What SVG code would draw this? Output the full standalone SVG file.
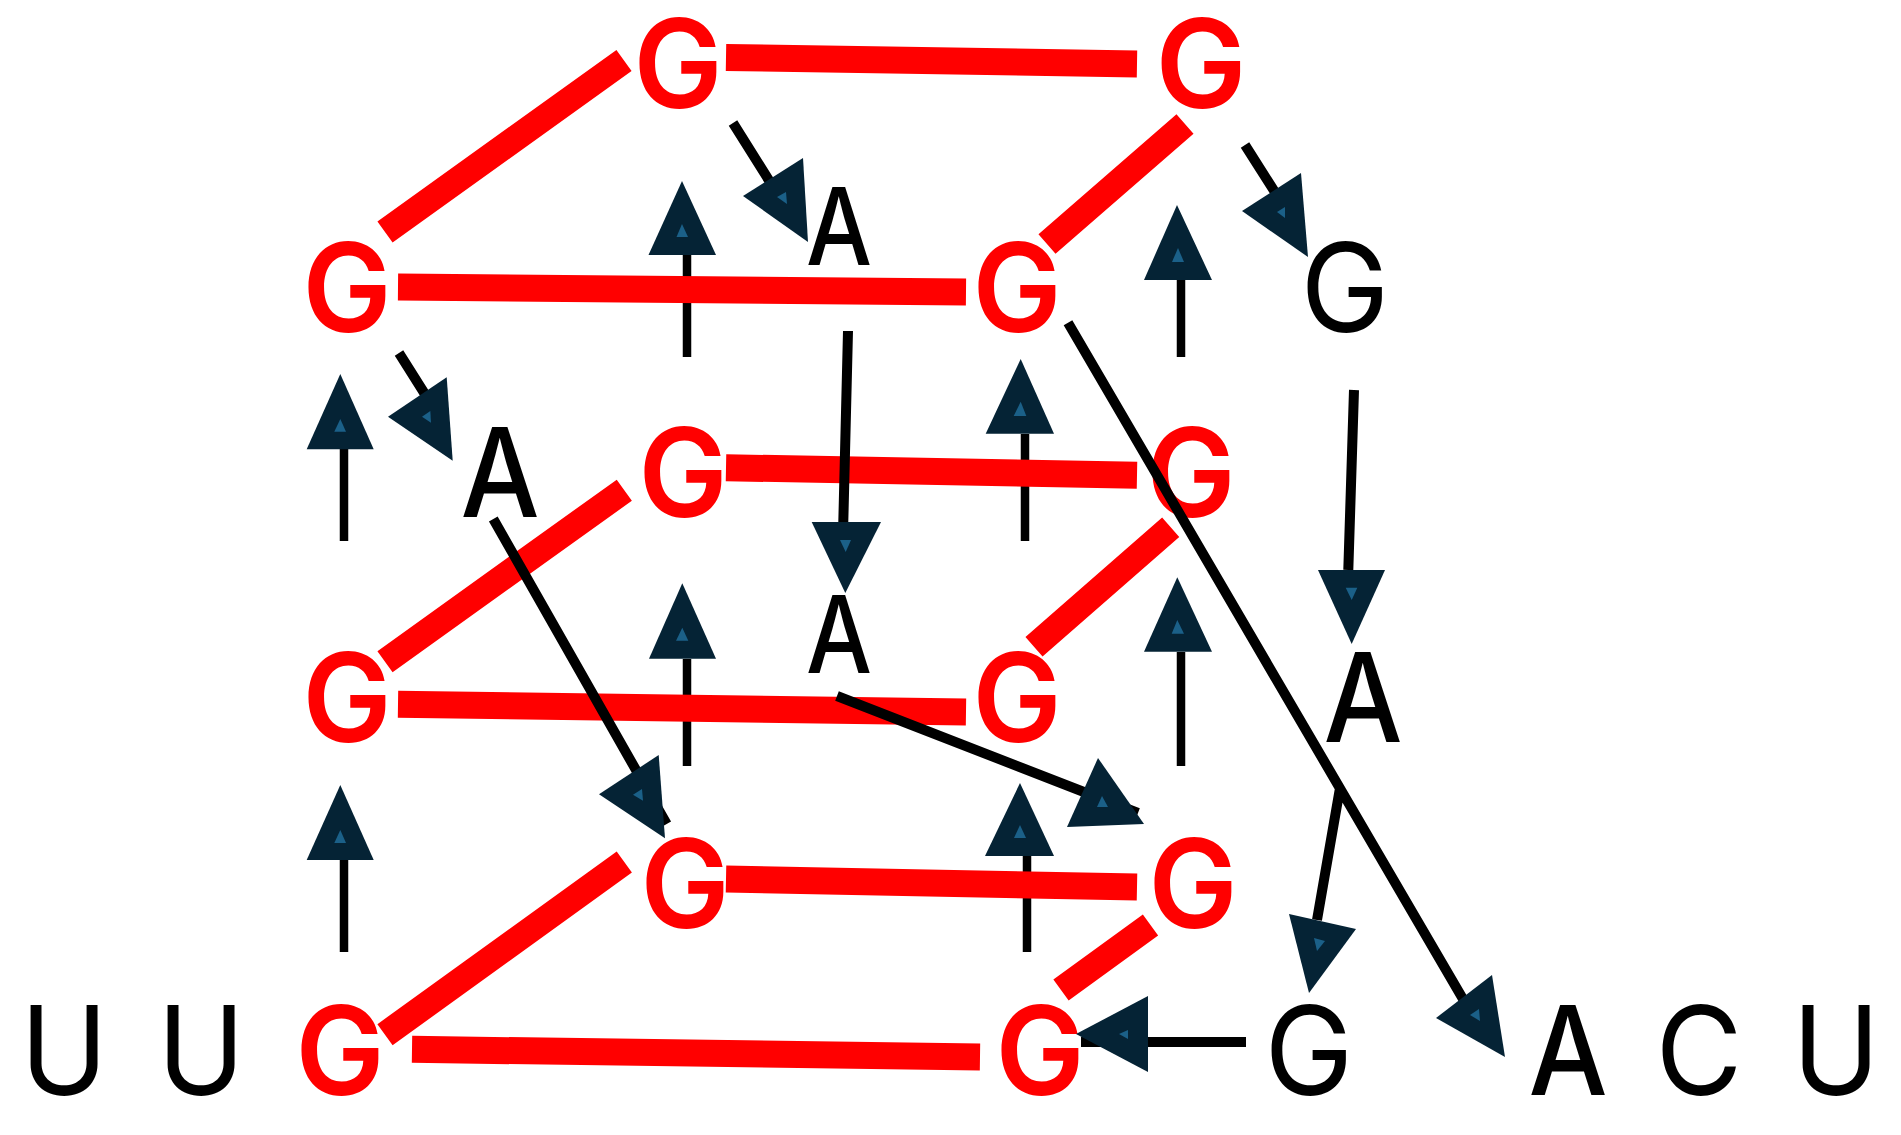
<svg xmlns="http://www.w3.org/2000/svg" width="1901" height="1135" viewBox="0 0 1901 1135">
<style>
text{font-family:Inter,"Liberation Sans",Arial,sans-serif;text-anchor:middle}
.r{fill:#f00;font-weight:600;font-size:124px}
.b{fill:#000;font-size:124px}
.l{fill:#000;font-size:124px}
.a{fill:#000;font-size:124px;font-weight:450}
.s{fill:#000;font-size:107px;font-weight:450}
.red{stroke:#f00;stroke-width:27;fill:none}
.d{stroke:#f00;stroke-width:26;fill:none}
.k{stroke:#000;stroke-width:8.5;fill:none}
.w{stroke:#000;stroke-width:10;fill:none}
.t{fill:#052335}
.i{fill:#1b6088}
</style>
<rect width="1901" height="1135" fill="#fff"/>
<g id="nodes">
<g id="n1"><text class="l" transform="translate(64,1095) scale(.95,1)">U</text></g>
<g id="n2"><text class="l" transform="translate(201,1095) scale(.95,1)">U</text></g>
<g id="n3"><text class="r" transform="translate(340,1095) scale(.96,1)">G</text></g>
<g id="n4"><text class="r" transform="translate(347,742) scale(.96,1)">G</text></g>
<g id="n5"><text class="r" transform="translate(347,332) scale(.96,1)">G</text></g>
<g id="n6"><text class="r" transform="translate(678,108) scale(.96,1)">G</text></g>
<g id="n7"><text class="r" transform="translate(1201,108) scale(.98,1)">G</text></g>
<g id="n8"><text class="r" transform="translate(1017,332) scale(.96,1)">G</text></g>
<g id="n9"><text class="r" transform="translate(683,517) scale(.96,1)">G</text></g>
<g id="n10"><text class="r" transform="translate(1191,517) scale(.96,1)">G</text></g>
<g id="n11"><text class="r" transform="translate(1017,742) scale(.96,1)">G</text></g>
<g id="n12"><text class="r" transform="translate(685,928) scale(.96,1)">G</text></g>
<g id="n13"><text class="r" transform="translate(1193,928) scale(.96,1)">G</text></g>
<g id="n14"><text class="r" transform="translate(1040,1095) scale(.96,1)">G</text></g>
<g id="n15"><text class="b" transform="translate(1345,332) scale(.96,1)">G</text></g>
<g id="n16"><text class="b" transform="translate(1309,1095) scale(.96,1)">G</text></g>
<g id="n17"><text class="s" transform="translate(839,265) scale(.87,1)">A</text></g>
<g id="n18"><text class="s" transform="translate(839,673) scale(.87,1)">A</text></g>
<g id="n19"><text class="a" transform="translate(500,516.5) scale(.9,1)">A</text></g>
<g id="n20"><text class="a" transform="translate(1363,741.5) scale(.9,1)">A</text></g>
<g id="n21"><text class="a" transform="translate(1568,1095) scale(.9,1)">A</text></g>
<g id="n22"><text class="l" transform="translate(1699,1095) scale(.96,1)">C</text></g>
<g id="n23"><text class="l" transform="translate(1836,1095) scale(.95,1)">U</text></g>
</g>
<g id="connectors">
<path class="k" d="M344 541V449M1025 541V434M687 357V255M1181 357V280M687 766V659M1181 766V652M344 952V860M1027 952V856"/>
<path class="red" d="M726 57.5L1137 64M398 287L966 292M726 467.7L1137 475.3M398 704.3L966 712M726 879L1137 887M412 1049.3L980 1057"/>
<path class="d" d="M624 60.5L385 232M1185 124L1047 244M624.3 490.2L385 661.7M1170.7 527.3L1034 646.7M624.3 862L385 1034.7M1150.5 925L1061 990"/>
<path class="w" d="M733 123L775 190M1245 145L1285 208M399 353L440 418M848 331L843.3 522M1354 390L1348.3 570M1068 322.7L1463 999M493.3 519L666.7 824M837 696L1138 813M1340 788L1317 920M1246 1042H1081"/>
<g>
<polygon class="t" points="682,181 648.5,255 716,255"/><polygon class="i" points="682,224 676.5,237 688,237"/>
<polygon class="t" points="1177,205 1144,280 1212,280"/><polygon class="i" points="1178,248 1172,262 1184,262"/>
<polygon class="t" points="340.3,374 306.7,449.3 373.7,449.3"/><polygon class="i" points="340.3,419 334.3,431.7 346,431.7"/>
<polygon class="t" points="1020.7,359 985.7,433.7 1054,433.7"/><polygon class="i" points="1020.7,401.7 1013.7,416 1026.3,416"/>
<polygon class="t" points="682.3,583.3 649,658.7 716,658.7"/><polygon class="i" points="682.3,627.7 676,640.7 688.3,640.7"/>
<polygon class="t" points="1177.3,577.3 1144,651.7 1212,651.7"/><polygon class="i" points="1177.3,620 1171.7,633.7 1184,633.7"/>
<polygon class="t" points="340.3,785 306.7,860 373.7,860"/><polygon class="i" points="340.3,830 334.3,843 346,843"/>
<polygon class="t" points="1020,783 985,856 1054,856"/><polygon class="i" points="1020,825 1014,838 1026,838"/>
<polygon class="t" points="803,158 743,196 808,242"/><polygon class="i" points="786,192 777,197 787,204"/>
<polygon class="t" points="1301,173 1242,211 1308,257"/><polygon class="i" points="1285,207 1277,212 1285,218"/>
<polygon class="t" points="446.7,377.3 388,416.7 452.7,460.7"/><polygon class="i" points="430.3,411 422,416.7 431,422.7"/>
<polygon class="t" points="811.7,522 881,522 845.3,593"/><polygon class="i" points="840,540 851,540 845.7,552"/>
<polygon class="t" points="1318,570 1385,570 1351.7,644"/><polygon class="i" points="1345.7,587.7 1357.3,587.7 1351.7,600"/>
<polygon class="t" points="1492,975 1436,1018 1505,1057"/><polygon class="i" points="1479,1009 1470,1015 1480,1021"/>
<polygon class="t" points="658.7,755 599,794.3 665,838.3"/><polygon class="i" points="642,789 633,794.7 643,800.7"/>
<polygon class="t" points="1098,758 1067,827 1144,824"/><polygon class="i" points="1102,796 1097,807 1108,807"/>
<polygon class="t" points="1289,914 1356,929 1309,993"/><polygon class="i" points="1314,938 1325,941 1317,951"/>
<polygon class="t" points="1148,996 1076,1034 1148,1072"/><polygon class="i" points="1128,1030 1119,1034 1128,1039"/>
</g>
</g>
</svg>
